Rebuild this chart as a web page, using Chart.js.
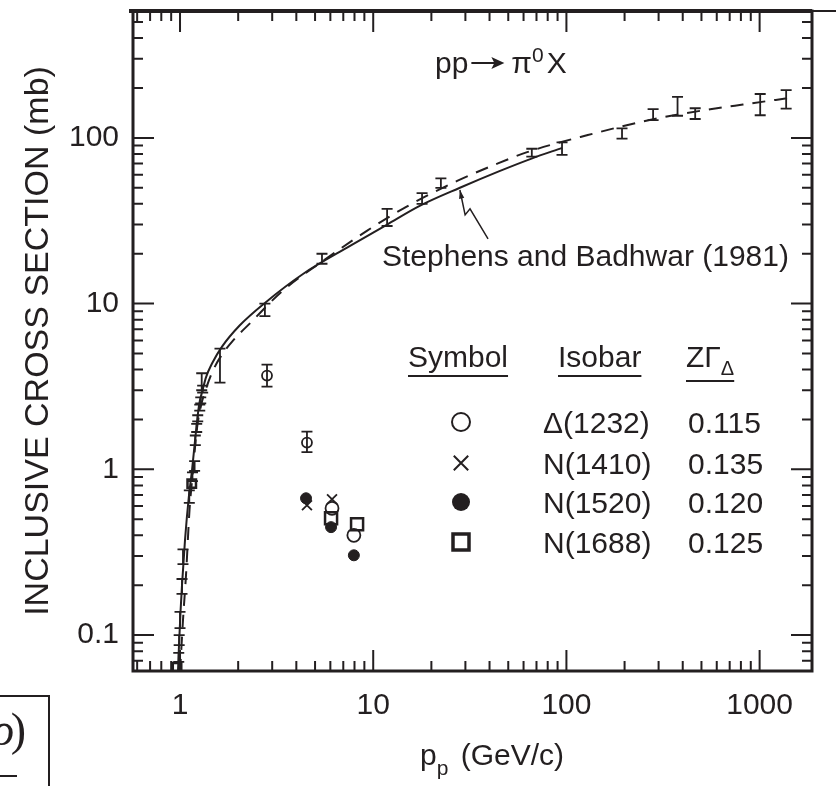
<!DOCTYPE html>
<html>
<head>
<meta charset="utf-8">
<script src="https://cdn.jsdelivr.net/npm/chart.js@4.4.1/dist/chart.umd.min.js"></script>
<style>
html,body{margin:0;padding:0;background:#fff;}
#wrap{width:836px;height:786px;}
</style>
</head>
<body>
<div id="wrap"><canvas id="c" width="836" height="786"></canvas></div>
<script>
const ink = '#231f20';
const sans = '"Liberation Sans", Arial, Helvetica, sans-serif';

// axis ticks
const xMajor = [1, 10, 100, 1000];
const xLabels = ['1', '10', '100', '1000'];
const xMinor = [0.6, 0.7, 0.8, 0.9, 2, 3, 4, 5, 6, 7, 8, 9, 20, 30, 40, 50, 60, 70, 80, 90,
  200, 300, 400, 500, 600, 700, 800, 900];
const yMajor = [0.1, 1, 10, 100];
const yLabels = ['0.1', '1', '10', '100'];
const yMinor = [0.07, 0.08, 0.09, 0.2, 0.3, 0.4, 0.5, 0.6, 0.7, 0.8, 0.9, 2, 3, 4, 5, 6, 7, 8, 9,
  20, 30, 40, 50, 60, 70, 80, 90, 200, 300, 400, 500];

// pp -> pi0 X measurements (GeV/c, mb) with error bars
const ppX  = [0.985, 0.99, 1.0, 1.024, 1.036, 1.117, 1.16, 1.19, 1.2, 1.22, 1.235, 1.265, 1.28, 1.31, 1.295,
  1.61, 2.75, 5.43, 11.8, 17.9, 22.4, 66.2, 94.9, 194, 281, 376, 464, 1007, 1372];
const ppY  = [0.073, 0.093, 0.123, 0.196, 0.30, 0.685, 0.90, 1.05, 1.5, 1.78, 2.03, 2.36, 2.6, 3.05, 3.4,
  4.35, 9.3, 18.6, 33, 43, 53.4, 81, 87, 107, 139, 155, 139, 160, 172];
const ppLo = [0.069, 0.087, 0.110, 0.177, 0.268, 0.627, 0.85, 0.98, 1.4, 1.68, 1.95, 2.26, 2.5, 2.9, 3.0,
  3.34, 8.4, 17.4, 29.4, 40, 50, 77, 79, 99, 128, 136, 130, 137, 150];
const ppHi = [0.078, 0.100, 0.138, 0.218, 0.329, 0.747, 0.96, 1.12, 1.6, 1.88, 2.12, 2.46, 2.72, 3.2, 3.8,
  5.35, 10.0, 20.0, 37.3, 46.4, 57, 86, 94, 114, 149, 177, 151, 184, 194];

// Stephens and Badhwar (1981) - solid
const sbX = [0.976, 0.988, 1.006, 1.024, 1.061, 1.113, 1.154, 1.196, 1.254, 1.315, 1.364, 1.464, 1.65,
  2.04, 2.75, 4.33, 7.59, 11.8, 17.5, 28.1, 45, 66, 95];
const sbY = [0.06, 0.087, 0.138, 0.2, 0.373, 0.70, 0.99, 1.49, 2.43, 3.07, 3.6, 4.35, 5.5,
  7.4, 10.1, 15.1, 22.3, 30, 39, 50, 63, 75, 87];

// isobar model - dashed
const modX = [1.0, 1.036, 1.074, 1.12, 1.168, 1.22, 1.285, 1.363, 1.464, 1.61, 1.88, 2.30, 3.41,
  5.5, 9.27, 14.9, 27.2, 42.7, 62.6, 129, 294, 601, 820, 1470];
const modY = [0.06, 0.123, 0.23, 0.57, 0.99, 1.72, 2.43, 3.07, 3.83, 4.72, 5.98, 7.6, 12,
  18.1, 27.5, 38.5, 55, 69, 82, 104, 131, 151, 159, 175];

// isobar contributions
const d1232X = [2.82, 4.54, 6.12, 7.94];
const d1232Y = [3.68, 1.45, 0.582, 0.40];
const d1232Lo = [3.16, 1.27, null, null];
const d1232Hi = [4.29, 1.69, null, null];
const n1410X = [4.54, 6.12];
const n1410Y = [0.607, 0.66];
const n1520X = [4.49, 6.05, 7.94];
const n1520Y = [0.669, 0.448, 0.303];
const n1688X = [0.965, 1.15, 6.05, 8.25];
const n1688Y = [0.064, 0.82, 0.507, 0.467];

// table
const isobarNames = ['\u0394(1232)', 'N(1410)', 'N(1520)', 'N(1688)'];
const zGamma = ['0.115', '0.135', '0.120', '0.125'];

// arrow from the label to the solid curve (data coords)
const arrowX = [39.3, 31.7, 29.9, 28.1];
const arrowY = [24.6, 37.3, 34.3, 48.5];

function pts(xs, ys) {
  return xs.map((x, i) => ({x: x, y: ys[i]}));
}

function drawSymbol(ctx, kind, x, y, r) {
  ctx.beginPath();
  if (kind === 'open') {
    ctx.lineWidth = 2;
    ctx.arc(x, y, r, 0, Math.PI * 2);
    ctx.stroke();
  } else if (kind === 'filled') {
    ctx.arc(x, y, r, 0, Math.PI * 2);
    ctx.fill();
  } else if (kind === 'cross') {
    ctx.lineWidth = 2;
    ctx.moveTo(x - r * 0.8, y - r * 0.8); ctx.lineTo(x + r * 0.8, y + r * 0.8);
    ctx.moveTo(x + r * 0.8, y - r * 0.8); ctx.lineTo(x - r * 0.8, y + r * 0.8);
    ctx.stroke();
  } else {
    ctx.lineWidth = 3.5;
    ctx.strokeRect(x - r, y - r, 2 * r, 2 * r);
  }
}

const decorations = {
  id: 'decorations',
  afterDatasetsDraw(chart) {
    const {ctx, chartArea: a, scales: {x, y}} = chart;
    ctx.save();
    ctx.strokeStyle = ink;
    ctx.fillStyle = ink;

    // error bars
    ctx.lineWidth = 1.8;
    const bars = (xs, lo, hi, cap) => {
      ctx.beginPath();
      xs.forEach((v, i) => {
        if (lo[i] == null) return;
        const px = x.getPixelForValue(v);
        const p1 = y.getPixelForValue(lo[i]);
        const p2 = y.getPixelForValue(hi[i]);
        ctx.moveTo(px, p1); ctx.lineTo(px, p2);
        ctx.moveTo(px - cap, p1); ctx.lineTo(px + cap, p1);
        ctx.moveTo(px - cap, p2); ctx.lineTo(px + cap, p2);
      });
      ctx.stroke();
    };
    bars(ppX, ppLo, ppHi, 5.5);
    bars(d1232X, d1232Lo, d1232Hi, 5.5);

    // frame
    ctx.lineWidth = 3;
    ctx.strokeRect(a.left, a.top, a.right - a.left, a.bottom - a.top);
    ctx.lineWidth = 4;
    ctx.beginPath();
    ctx.moveTo(a.left - 4, a.top); ctx.lineTo(a.right, a.top);
    ctx.stroke();
    ctx.lineWidth = 2;
    ctx.beginPath();
    ctx.moveTo(a.right, a.top); ctx.lineTo(chart.width, a.top);
    ctx.stroke();

    // inward ticks on all four sides
    ctx.lineWidth = 2;
    ctx.beginPath();
    const tickX = (vals, len) => vals.forEach(v => {
      const px = x.getPixelForValue(v);
      if (px <= a.left + 2 || px >= a.right - 2) return;
      ctx.moveTo(px, a.bottom); ctx.lineTo(px, a.bottom - len);
      ctx.moveTo(px, a.top); ctx.lineTo(px, a.top + len);
    });
    const tickY = (vals, len) => vals.forEach(v => {
      const py = y.getPixelForValue(v);
      if (py <= a.top + 2 || py >= a.bottom - 2) return;
      ctx.moveTo(a.left, py); ctx.lineTo(a.left + len, py);
      ctx.moveTo(a.right, py); ctx.lineTo(a.right - len, py);
    });
    tickX(xMajor, 21); tickX(xMinor, 10);
    tickY(yMajor, 21); tickY(yMinor, 10);
    ctx.stroke();

    // arrow to the solid curve
    ctx.lineWidth = 1.5;
    ctx.beginPath();
    arrowX.forEach((v, i) => {
      const px = x.getPixelForValue(v), py = y.getPixelForValue(arrowY[i]);
      if (i === 0) ctx.moveTo(px, py); else ctx.lineTo(px, py);
    });
    ctx.stroke();
    const n = arrowX.length;
    const tx = x.getPixelForValue(arrowX[n - 1]), ty = y.getPixelForValue(arrowY[n - 1]);
    const bx = x.getPixelForValue(arrowX[n - 2]), by = y.getPixelForValue(arrowY[n - 2]);
    const ang = Math.atan2(ty - by, tx - bx);
    ctx.beginPath();
    ctx.moveTo(tx, ty);
    ctx.lineTo(tx - 9 * Math.cos(ang - 0.3), ty - 9 * Math.sin(ang - 0.3));
    ctx.lineTo(tx - 9 * Math.cos(ang + 0.3), ty - 9 * Math.sin(ang + 0.3));
    ctx.closePath();
    ctx.fill();

    // texts
    ctx.font = '30px ' + sans;
    ctx.textBaseline = 'alphabetic';
    ctx.textAlign = 'left';
    ctx.fillText('Stephens and Badhwar (1981)', 382, 266);

    // pp -> pi0 X
    let cx = 435;
    ctx.fillText('pp', cx, 73);
    cx += ctx.measureText('pp').width + 3;
    ctx.lineWidth = 2;
    ctx.beginPath();
    ctx.moveTo(cx, 63); ctx.lineTo(cx + 24, 63);
    ctx.stroke();
    ctx.beginPath();
    ctx.moveTo(cx + 33, 63); ctx.lineTo(cx + 20, 57); ctx.lineTo(cx + 23, 63); ctx.lineTo(cx + 20, 69);
    ctx.closePath();
    ctx.fill();
    cx += 40;
    ctx.fillText('\u03c0', cx, 73);
    cx += ctx.measureText('\u03c0').width;
    ctx.font = '21px ' + sans;
    ctx.fillText('0', cx, 62);
    cx += ctx.measureText('0').width + 3;
    ctx.font = '30px ' + sans;
    ctx.fillText('X', cx, 73);

    // table header
    const head = [['Symbol', 408], ['Isobar', 558]];
    ctx.lineWidth = 2;
    head.forEach(h => {
      ctx.fillText(h[0], h[1], 367);
      const w = ctx.measureText(h[0]).width;
      ctx.beginPath();
      ctx.moveTo(h[1], 376); ctx.lineTo(h[1] + w, 376);
      ctx.stroke();
    });
    ctx.fillText('Z\u0393', 686, 367);
    let zw = ctx.measureText('Z\u0393').width;
    ctx.font = '20px ' + sans;
    ctx.fillText('\u0394', 686 + zw, 375);
    zw += ctx.measureText('\u0394').width;
    ctx.beginPath();
    ctx.moveTo(686, 381); ctx.lineTo(686 + zw, 381);
    ctx.stroke();

    // table rows
    const rowY = [422, 463, 502, 542];
    const kinds = ['open', 'cross', 'filled', 'square'];
    ctx.font = '30px ' + sans;
    rowY.forEach((ry, i) => {
      drawSymbol(ctx, kinds[i], 461, ry, kinds[i] === 'square' ? 8 : 9);
      ctx.fillText(isobarNames[i], 543, ry + 11);
      ctx.fillText(zGamma[i], 688, ry + 11);
    });

    // x title with subscript
    let tx0 = 420;
    ctx.fillText('p', tx0, 765);
    tx0 += ctx.measureText('p').width;
    ctx.font = '21px ' + sans;
    ctx.fillText('p', tx0, 775);
    tx0 += ctx.measureText('p').width + 4;
    ctx.font = '30px ' + sans;
    ctx.fillText(' (GeV/c)', tx0, 765);

    // cropped box at the lower left
    ctx.lineWidth = 2;
    ctx.strokeRect(-5, 696, 54, 110);
    ctx.font = 'italic 46px "Liberation Serif", "Times New Roman", serif';
    ctx.textAlign = 'right';
    ctx.fillText('\u03c1', 14, 745);
    ctx.font = '46px "Liberation Serif", "Times New Roman", serif';
    ctx.fillText(')', 26, 745);
    ctx.beginPath();
    ctx.moveTo(0, 776); ctx.lineTo(17, 776);
    ctx.stroke();

    ctx.restore();
  }
};

Chart.defaults.font.family = sans;
Chart.defaults.color = ink;

new Chart(document.getElementById('c'), {
  type: 'scatter',
  data: {
    datasets: [
      {label: 'N(1688)', data: pts(n1688X, n1688Y), pointStyle: 'rect', pointRadius: [6, 6, 8.5, 8.5],
        pointBorderWidth: 2.5, pointBackgroundColor: 'rgba(0,0,0,0)', pointBorderColor: ink},
      {label: 'N(1520)', data: pts(n1520X, n1520Y), pointStyle: 'circle', pointRadius: 5.5,
        pointBorderWidth: 1, pointBackgroundColor: ink, pointBorderColor: ink},
      {label: 'N(1410)', data: pts(n1410X, n1410Y), pointStyle: 'crossRot', pointRadius: 7,
        pointBorderWidth: 1.8, pointBorderColor: ink},
      {label: 'Delta(1232)', data: pts(d1232X, d1232Y), pointStyle: 'circle', pointRadius: [5, 5, 6.5, 6.5],
        pointBorderWidth: 1.8, pointBackgroundColor: 'rgba(0,0,0,0)', pointBorderColor: ink},
      {label: 'pp data', data: pts(ppX, ppY), pointRadius: 0},
      {label: 'Stephens and Badhwar (1981)', data: pts(sbX, sbY), showLine: true, pointRadius: 0,
        borderColor: ink, borderWidth: 2, cubicInterpolationMode: 'monotone'},
      {label: 'model', data: pts(modX, modY), showLine: true, pointRadius: 0,
        borderColor: ink, borderWidth: 2, borderDash: [13, 9], cubicInterpolationMode: 'monotone'}
    ]
  },
  options: {
    responsive: false,
    animation: false,
    layout: {padding: {top: 9, right: 24, bottom: 0, left: 0}},
    plugins: {legend: {display: false}, tooltip: {enabled: false}},
    scales: {
      x: {
        type: 'logarithmic', min: 0.571, max: 1867,
        grid: {display: false, drawTicks: false},
        border: {display: false},
        afterBuildTicks: s => { s.ticks = xMajor.concat(xMinor).sort((p, q) => p - q).map(v => ({value: v})); },
        afterFit: s => { s.height = 115; s.paddingLeft = 0; s.paddingRight = 0; },
        ticks: {
          autoSkip: false, maxRotation: 0, padding: 17,
          font: {size: 30}, color: ink,
          callback: v => { const i = xMajor.indexOf(v); return i >= 0 ? xLabels[i] : ''; }
        }
      },
      y: {
        type: 'logarithmic', min: 0.0607, max: 583,
        grid: {display: false, drawTicks: false},
        border: {display: false},
        afterBuildTicks: s => { s.ticks = yMajor.concat(yMinor).sort((p, q) => p - q).map(v => ({value: v})); },
        afterFit: s => { s.width = 133; s.paddingTop = 0; s.paddingBottom = 0; },
        ticks: {
          autoSkip: false, padding: 14,
          font: {size: 30}, color: ink,
          callback: v => { const i = yMajor.indexOf(v); return i >= 0 ? yLabels[i] : ''; }
        },
        title: {
          display: true, text: 'INCLUSIVE CROSS SECTION (mb)', color: ink,
          font: {size: 34}, padding: {top: 18, bottom: 0}
        }
      }
    }
  },
  plugins: [decorations]
});
</script>
</body>
</html>
